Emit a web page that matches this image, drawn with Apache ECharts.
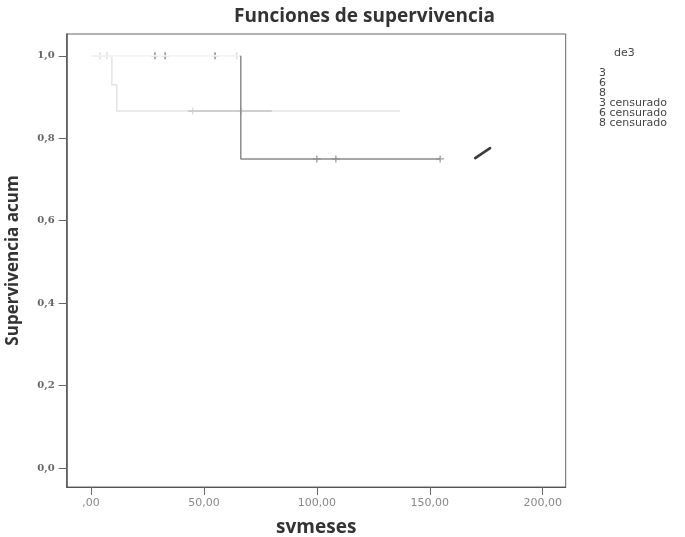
<!DOCTYPE html>
<html>
<head>
<meta charset="utf-8">
<script src="https://cdn.jsdelivr.net/npm/echarts@6/dist/echarts.min.js"></script>
<style>
  html, body { margin: 0; padding: 0; background: #fff; }
  #chart { width: 685px; height: 537px; }
</style>
</head>
<body>
<div id="chart"></div>
<script>
// Kaplan-Meier survival by group (de3), time in months (svmeses)
const xTicks = [0, 50, 100, 150, 200];
const yTicks = [0, 0.2, 0.4, 0.6, 0.8, 1.0];

// survival step curves: event times and cumulative survival
const grp3Time = [0, 9.2, 11.4, 136.8];
const grp3Surv = [1, 0.93, 0.866, 0.866];
const grp3DarkTime = [43, 80];          // stretch of curve 3 drawn a shade darker
const grp3DarkSurv = [0.866, 0.866];
const grp6Time = [0, 64.5];
const grp6Surv = [1, 1];
const grp8TopTime = [0, 66.3];          // curve 8 before its drop
const grp8TopSurv = [1, 1];
const grp8Time = [66.3, 66.3, 154.6];   // curve 8 from its drop onwards
const grp8Surv = [1, 0.75, 0.75];

// censored observations
const cens3Time = [4, 7, 45, 64.5];
const cens3Surv = [1, 1, 0.866, 1];
const cens6Time = [28.3, 32.8, 54.9];
const cens6Surv = [1, 1, 1];
const cens8Time = [66.3, 100, 108.4, 154.6];
const cens8Surv = [0.866, 0.75, 0.75, 0.75];

// short pen stroke to the right of the curves
const strokeTime = [170.1, 176.7];
const strokeSurv = [0.752, 0.776];

// legend entries
const legendNames = ['3', '6', '8', '3 censurado', '6 censurado', '8 censurado'];

const zip = (xs, ys) => xs.map((x, i) => [x, ys[i]]);
const plus = 'path://M0,4L8,4M4,0L4,8';

const stepLine = (name, data, color, width) => ({
  name, type: 'line', step: 'end', showSymbol: false, silent: true,
  lineStyle: { width, color }, itemStyle: { color }, data
});
const censored = (name, data, color) => ({
  name, type: 'scatter', symbol: plus, symbolSize: [8, 7], silent: true,
  itemStyle: { color: 'none', borderColor: color, borderWidth: 1.3 }, data
});

const chart = echarts.init(document.getElementById('chart'), null, { renderer: 'canvas' });

const option = {
  backgroundColor: '#ffffff',
  animation: false,
  title: [
    {
      text: 'Funciones de supervivencia',
      left: 229, top: 2,
      textStyle: { fontFamily: 'Open Sans', fontWeight: 'bold', fontSize: 19, color: '#333' }
    },
    {
      text: 'de3',
      left: 609, top: 43,
      textStyle: { fontFamily: 'DejaVu Sans', fontWeight: 'normal', fontSize: 11, color: '#444' }
    }
  ],
  legend: {
    orient: 'vertical',
    left: 579, top: 63,
    icon: 'rect',
    itemWidth: 12, itemHeight: 8, itemGap: -1,
    itemStyle: { opacity: 0, borderWidth: 0 },
    lineStyle: { opacity: 0 },
    selectedMode: false,
    textStyle: {
      fontFamily: 'DejaVu Sans', fontSize: 11, color: '#444',
      lineHeight: 8, height: 8, padding: [0, 0, 0, -2]
    },
    data: legendNames.map(name => ({ name, icon: 'rect' }))
  },
  grid: {
    left: 66.7, right: 119.3, top: 34, bottom: 50,
    outerBoundsMode: 'none',
    show: true, borderColor: '#666', borderWidth: 1, backgroundColor: 'transparent'
  },
  xAxis: {
    type: 'value', min: -10.8, max: 210.2,
    name: 'svmeses', nameLocation: 'middle', nameGap: 31,
    nameTextStyle: { fontFamily: 'Open Sans', fontWeight: 'bold', fontSize: 19, color: '#333' },
    axisLine: { show: true, onZero: false, lineStyle: { color: '#555', width: 1.2 } },
    axisTick: { show: true, length: 8, customValues: xTicks, lineStyle: { color: '#666' } },
    axisLabel: {
      customValues: xTicks, margin: 11,
      fontFamily: 'DejaVu Sans', fontSize: 11, color: '#888',
      formatter: v => v === 0 ? ',00' : v.toFixed(2).replace('.', ',')
    },
    splitLine: { show: false }
  },
  yAxis: {
    type: 'value', min: -0.046, max: 1.053,
    name: 'Supervivencia acum', nameLocation: 'middle', nameRotate: 90, nameGap: 45,
    nameTextStyle: { fontFamily: 'Open Sans', fontWeight: 'bold', fontSize: 17, color: '#333' },
    axisLine: { show: true, onZero: false, lineStyle: { color: '#555', width: 1.5 } },
    axisTick: { show: true, length: 8, customValues: yTicks, lineStyle: { color: '#666' } },
    axisLabel: {
      customValues: yTicks, margin: 12,
      fontFamily: 'DejaVu Serif', fontWeight: 'bold', fontSize: 10, color: '#666',
      formatter: v => v.toFixed(1).replace('.', ',')
    },
    splitLine: { show: false }
  },
  series: [
    stepLine('3', zip(grp3Time, grp3Surv), '#e3e3e3', 1.5),
    stepLine('3', zip(grp3DarkTime, grp3DarkSurv), '#c6c6c6', 1.5),
    stepLine('6', zip(grp6Time, grp6Surv), '#f3f3f3', 1.5),
    stepLine('8', zip(grp8TopTime, grp8TopSurv), '#f3f3f3', 1.5),
    stepLine('8', zip(grp8Time, grp8Surv), '#8c8c8c', 1.5),
    censored('3 censurado', zip(cens3Time, cens3Surv), '#d2d2d2'),
    censored('6 censurado', zip(cens6Time, cens6Surv), '#6a6a6a'),
    censored('8 censurado', zip(cens8Time, cens8Surv), '#888888'),
    {
      name: 'trazo', type: 'line', showSymbol: false, silent: true,
      lineStyle: { width: 2.6, color: '#3c3c3c', cap: 'round' },
      data: zip(strokeTime, strokeSurv)
    }
  ]
};

chart.setOption(option);
</script>
</body>
</html>
